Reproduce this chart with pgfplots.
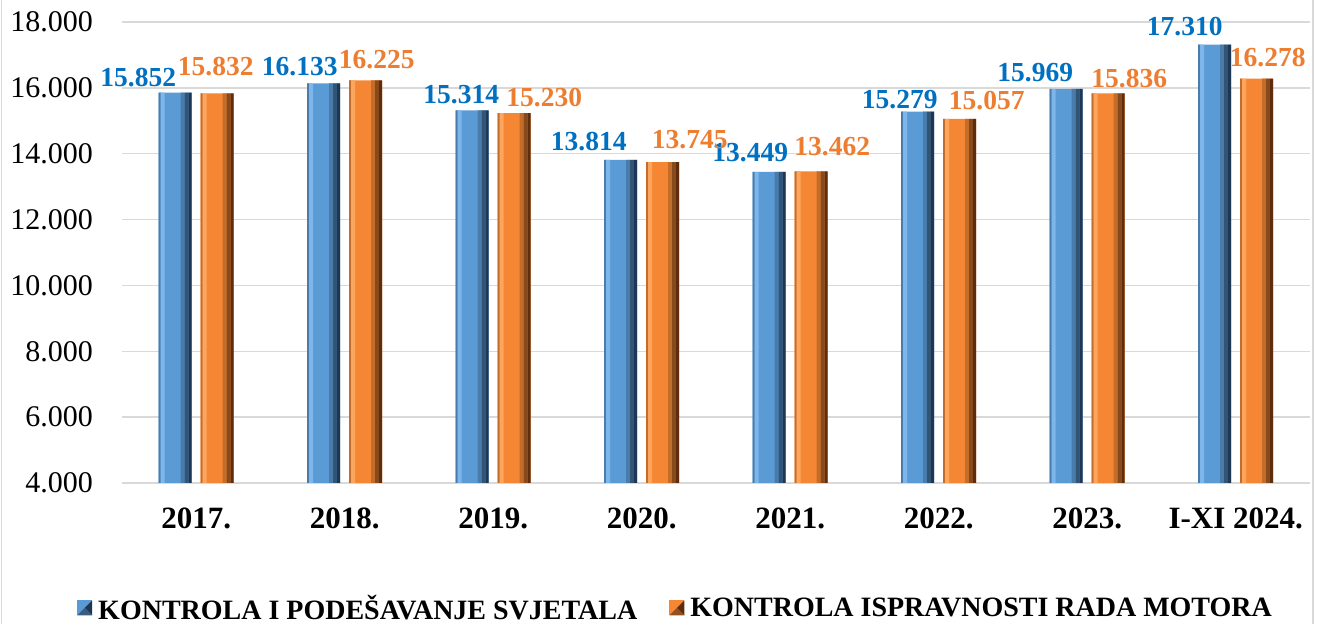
\documentclass[border=0pt]{standalone}
\usepackage{pgfplots}
\usepackage{pgfplotstable}
\pgfplotsset{compat=1.18}
\usepackage{fontspec}
\setmainfont{Liberation Serif}
\definecolor{bluebar}{RGB}{91,155,213}
\definecolor{bluelight}{RGB}{125,182,235}
\definecolor{bluedark}{RGB}{30,55,85}
\definecolor{orbar}{RGB}{245,135,52}
\definecolor{orlight}{RGB}{252,165,95}
\definecolor{ordark}{RGB}{95,45,12}
\definecolor{bluelab}{RGB}{0,112,192}
\definecolor{orlab}{RGB}{237,125,49}

\pgfplotstableread{
x y dx dy
0 15852 -37 6
1 16133 -24 7.5
2 15314 -11 7
3 13814 -32 9
4 13449 -19 10
5 15279 -18 3
6 15969 -31 7
7 17310 -30 9
}\bluedata
\pgfplotstableread{
x y dx dy
0 15832 -1.5 18
1 16225 11 12
2 15230 30 7
3 13745 27 14
4 13462 21 16
5 15057 27 9.5
6 15836 21 6
7 16278 11 12
}\ordata

\begin{document}
\begin{tikzpicture}
\path[use as bounding box] (0bp,0bp) rectangle (1323bp,624bp);
\draw[gray!30, line width=1.5bp] (1.5bp,-5bp) -- (1.5bp,630bp);
\draw[gray!30, line width=1.5bp] (1313bp,-5bp) -- (1313bp,630bp);
\begin{axis}[
  at={(122bp,141bp)}, anchor=south west,
  width=1188bp, height=461bp, scale only axis,
  xmin=-0.5, xmax=7.5, ymin=4000, ymax=18000,
  ytick={4000,6000,...,18000},
  xtick={0,...,7},
  xticklabels={2017.,2018.,2019.,2020.,2021.,2022.,2023.,I-XI 2024.},
  scaled y ticks=false,
  ymajorgrids,
  grid style={draw=gray!30, line width=1.3bp},
  axis line style={draw=none},
  major tick length=0pt,
  /pgf/number format/.cd, 1000 sep={.}, assume math mode=true,
  /pgfplots/.cd,
  yticklabel style={font=\fontsize{30bp}{36bp}\selectfont, anchor=east, inner sep=0pt, xshift=-29bp},
  xticklabel style={font=\fontsize{31bp}{36bp}\selectfont\bfseries, anchor=north, inner sep=0pt, yshift=-25bp},
  ybar,
  visualization depends on={\thisrow{dx} \as \dx},
  visualization depends on={\thisrow{dy} \as \dy},
  every node near coord/.append style={font=\fontsize{27.5bp}{30bp}\selectfont\bfseries, anchor=base, inner sep=0pt, xshift=\dx bp, yshift=\dy bp},
  legend columns=2,
  legend style={at={(0.466,-0.271)}, anchor=center, draw=none, fill=none,
    font=\fontsize{28bp}{30bp}\selectfont\bfseries,
    /tikz/every odd column/.append style={column sep=4bp},
    /tikz/every even column/.append style={column sep=30bp}},
]
% blue series
\addplot[fill=bluebar, draw=none, bar width=33bp, bar shift=-21bp,
  nodes near coords, nodes near coords style={text=bluelab},
  legend image code/.code={\fill[bluebar] (0bp,-7.5bp) rectangle (15bp,7.5bp);
    \fill[bluedark] (15bp,-7.5bp) -- (15bp,7.5bp) -- (7.5bp,0bp) -- cycle;
    \fill[bluebar!60!black] (0bp,-7.5bp) -- (15bp,-7.5bp) -- (7.5bp,0bp) -- cycle;}]
  table[x=x,y=y] {\bluedata};
\addlegendentry{KONTROLA I PODEŠAVANJE SVJETALA}
\addplot[forget plot, fill=bluebar!80!black, draw=none, bar width=2bp, bar shift=-36.5bp] table[x=x,y=y] {\bluedata};
\addplot[forget plot, fill=bluelight, draw=none, bar width=4bp, bar shift=-33.5bp] table[x=x,y=y] {\bluedata};
\addplot[forget plot, fill=bluebar!80!black, draw=none, bar width=4bp, bar shift=-13.5bp] table[x=x,y=y] {\bluedata};
\addplot[forget plot, fill=bluebar!55!black, draw=none, bar width=4bp, bar shift=-9.5bp] table[x=x,y=y] {\bluedata};
\addplot[forget plot, fill=bluedark, draw=none, bar width=3bp, bar shift=-6bp] table[x=x,y=y] {\bluedata};
% orange series
\addplot[fill=orbar, draw=none, bar width=33bp, bar shift=21bp,
  nodes near coords, nodes near coords style={text=orlab},
  legend image code/.code={\fill[orbar] (0bp,-7.5bp) rectangle (15bp,7.5bp);
    \fill[ordark] (15bp,-7.5bp) -- (15bp,7.5bp) -- (7.5bp,0bp) -- cycle;
    \fill[orbar!60!black] (0bp,-7.5bp) -- (15bp,-7.5bp) -- (7.5bp,0bp) -- cycle;}]
  table[x=x,y=y] {\ordata};
\addlegendentry{KONTROLA ISPRAVNOSTI RADA MOTORA}
\addplot[forget plot, fill=orbar!80!black, draw=none, bar width=2bp, bar shift=5.5bp] table[x=x,y=y] {\ordata};
\addplot[forget plot, fill=orlight, draw=none, bar width=4bp, bar shift=8.5bp] table[x=x,y=y] {\ordata};
\addplot[forget plot, fill=orbar!80!black, draw=none, bar width=4bp, bar shift=28.5bp] table[x=x,y=y] {\ordata};
\addplot[forget plot, fill=orbar!55!black, draw=none, bar width=4bp, bar shift=32.5bp] table[x=x,y=y] {\ordata};
\addplot[forget plot, fill=ordark, draw=none, bar width=3bp, bar shift=36bp] table[x=x,y=y] {\ordata};
\end{axis}
\end{tikzpicture}
\end{document}
